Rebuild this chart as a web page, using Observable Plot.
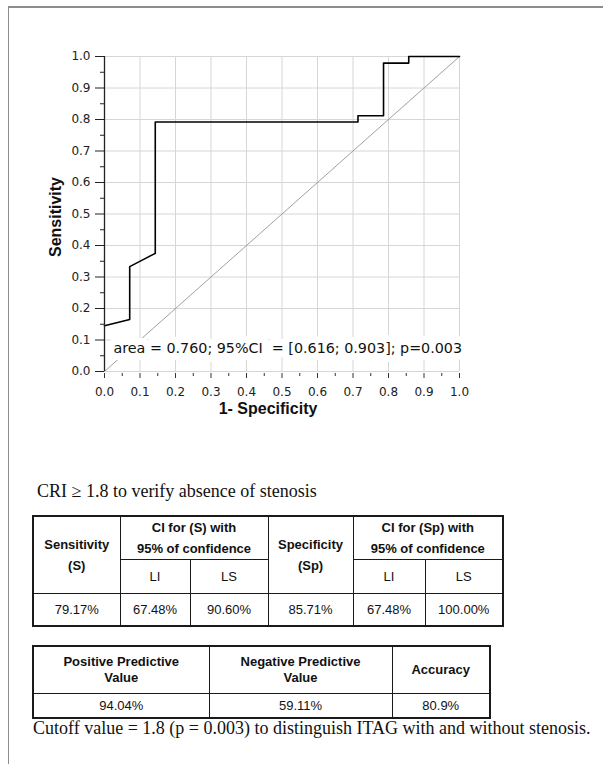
<!DOCTYPE html>
<html>
<head>
<meta charset="utf-8">
<script src="https://cdn.jsdelivr.net/npm/d3@7"></script>
<script src="https://cdn.jsdelivr.net/npm/@observablehq/plot@0.6"></script>
<style>
  html, body { margin: 0; padding: 0; background: #fff; }
  body { width: 603px; height: 764px; position: relative; overflow: hidden; }
  #frame { position: absolute; left: 8px; top: 6px; width: 600px; height: 770px;
           border-left: 1px solid #8c8c8c; border-top: 2px solid #8c8c8c; box-sizing: border-box; }
  #chart { position: absolute; left: 0; top: 0; }
  .serif { position: absolute; font-family: "Liberation Serif", "Times New Roman", serif; color: #111;
           white-space: nowrap; line-height: 20px; }
  #title { left: 37px; top: 481px; font-size: 18px; }
  #caption { left: 33px; top: 718px; font-size: 18px; }
  table { position: absolute; border-collapse: collapse; table-layout: fixed;
          font-family: "Liberation Sans", Arial, sans-serif; font-size: 13px; color: #111;
          border: 2px solid #1a1a1a; }
  td, th { border: 1px solid #1a1a1a; text-align: center; padding: 0; white-space: pre-line; }
  th { font-weight: bold; }
  #t1 { left: 32px; top: 515px; width: 470px; }
  #t1 th { line-height: 21px; }
  #t2 { left: 32px; top: 645px; width: 457px; }
  #t2 th { line-height: 16px; }
</style>
</head>
<body>
<div id="frame"></div>
<div id="chart"></div>
<div id="title" class="serif"></div>
<table id="t1"></table>
<table id="t2"></table>
<div id="caption" class="serif"></div>
<script>
// ---- ROC curve data (1 - specificity, sensitivity)
const rocFPR = [0, 0.071, 0.071, 0.143, 0.143, 0.714, 0.714, 0.786, 0.786, 0.857, 0.857, 1.0];
const rocTPR = [0.145, 0.165, 0.333, 0.375, 0.792, 0.792, 0.812, 0.812, 0.979, 0.979, 1.0, 1.0];
// ---- chance (reference) line
const chanceX = [0, 1];
const chanceY = [0, 1];
// ---- ticks
const majorTicks = [0, 0.1, 0.2, 0.3, 0.4, 0.5, 0.6, 0.7, 0.8, 0.9, 1.0];
const minorTicks = [0.05, 0.15, 0.25, 0.35, 0.45, 0.55, 0.65, 0.75, 0.85, 0.95];
// ---- texts
const xLabel = "1- Specificity";
const yLabel = "Sensitivity";
const annotation = "area = 0.760; 95%CI  = [0.616; 0.903]; p=0.003";
const titleText = "CRI \u2265 1.8 to verify absence of stenosis";
const captionText = "Cutoff value = 1.8 (p = 0.003) to distinguish ITAG with and without stenosis.";
// ---- table 1
const t1Heads = ["Sensitivity\n(S)", "CI for (S) with\n95% of confidence", "Specificity\n(Sp)", "CI for (Sp) with\n95% of confidence"];
const t1Sub = ["LI", "LS"];
const t1Values = ["79.17%", "67.48%", "90.60%", "85.71%", "67.48%", "100.00%"];
const t1Cols = [87, 70, 78, 85, 72, 78];
// ---- table 2
const t2Heads = ["Positive Predictive\nValue", "Negative Predictive\nValue", "Accuracy"];
const t2Values = ["94.04%", "59.11%", "80.9%"];
const t2Cols = [176, 183, 98];

const roc = rocFPR.map((x, i) => ({fpr: x, tpr: rocTPR[i]}));
const chance = chanceX.map((x, i) => ({x, y: chanceY[i]}));
const fmt = d => d.toFixed(1);

const chart = Plot.plot({
  width: 603,
  height: 430,
  marginLeft: 104,
  marginRight: 144,
  marginTop: 56,
  marginBottom: 59,
  x: {domain: [0, 1]},
  y: {domain: [0, 1]},
  style: {background: "transparent", fontFamily: "'DejaVu Sans', Verdana, sans-serif", fontSize: "12px", color: "#222"},
  marks: [
    Plot.gridX(majorTicks, {stroke: "#d6d6d6", strokeOpacity: 1}),
    Plot.gridY(majorTicks, {stroke: "#d6d6d6", strokeOpacity: 1}),
    Plot.line(chance, {x: "x", y: "y", stroke: "#a0a0a0", strokeWidth: 1}),
    Plot.text([annotation], {frameAnchor: "bottom-left", dx: 9, dy: -23, textAnchor: "start", lineAnchor: "middle",
      fontSize: 14.3, fill: "#111", stroke: "white", strokeWidth: 14, strokeLinejoin: "round"}),
    Plot.line(roc, {x: "fpr", y: "tpr", stroke: "#000", strokeWidth: 1.6}),
    Plot.ruleX([0], {stroke: "#222", strokeWidth: 1.3}),
    Plot.axisY(majorTicks, {tickSize: 9, tickPadding: 5, tickFormat: fmt, label: null, stroke: "#222"}),
    Plot.axisY(minorTicks, {tickSize: 4, tickFormat: () => "", label: null, stroke: "#222"}),
    Plot.axisX(majorTicks, {tickSize: 5, tickPadding: 9, dy: 2, tickFormat: fmt, label: null, stroke: "#333"}),
    Plot.axisX(minorTicks, {tickSize: 3, dy: 2, tickFormat: () => "", label: null, stroke: "#333"}),
    Plot.text([yLabel], {frameAnchor: "left", rotate: -90, dx: -49, dy: 3, textAnchor: "middle", lineAnchor: "middle",
      fontSize: 16, fontWeight: "bold", fontFamily: "'Liberation Sans', Arial, sans-serif", fill: "#111"}),
    Plot.text([xLabel], {frameAnchor: "bottom", dx: -14, dy: 37, textAnchor: "middle", lineAnchor: "middle",
      fontSize: 16, fontWeight: "bold", fontFamily: "'Liberation Sans', Arial, sans-serif", fill: "#111"})
  ]
});
document.getElementById("chart").append(chart);

document.getElementById("title").textContent = titleText;
document.getElementById("caption").textContent = captionText;

// table 1
const t1 = document.getElementById("t1");
t1.innerHTML =
  "<colgroup>" + t1Cols.map(w => `<col style="width:${w}px">`).join("") + "</colgroup>" +
  `<tr style="height:42px"><th rowspan="2">${t1Heads[0]}</th><th colspan="2">${t1Heads[1]}</th>` +
  `<th rowspan="2">${t1Heads[2]}</th><th colspan="2">${t1Heads[3]}</th></tr>` +
  `<tr style="height:34px">` + [...t1Sub, ...t1Sub].map(s => `<td>${s}</td>`).join("") + "</tr>" +
  `<tr style="height:32px">` + t1Values.map(v => `<td>${v}</td>`).join("") + "</tr>";

// table 2
const t2 = document.getElementById("t2");
t2.innerHTML =
  "<colgroup>" + t2Cols.map(w => `<col style="width:${w}px">`).join("") + "</colgroup>" +
  `<tr style="height:47px">` + t2Heads.map(h => `<th>${h}</th>`).join("") + "</tr>" +
  `<tr style="height:25px">` + t2Values.map(v => `<td>${v}</td>`).join("") + "</tr>";
</script>
</body>
</html>
